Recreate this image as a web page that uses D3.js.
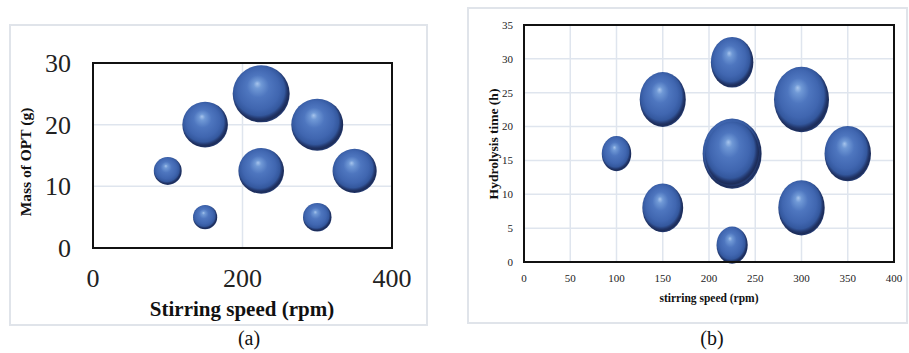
<!DOCTYPE html>
<html>
<head>
<meta charset="utf-8">
<script src="https://cdn.jsdelivr.net/npm/d3@7"></script>
<style>
  body { margin: 0; background: #fff; }
  svg { display: block; }
</style>
</head>
<body>
<div id="chart"></div>
<script>
// Panel (a): stirring speed vs mass of OPT
const speedA = [100, 150, 150, 225, 225, 300, 300, 350];
const massA = [12.5, 5, 20, 25, 12.5, 20, 5, 12.5];
const sizeA = [2.4, 1.8, 6.4, 10, 6.4, 8.3, 2.5, 6.0];
const xTicksA = [0, 200, 400];
const yTicksA = [0, 10, 20, 30];

// Panel (b): stirring speed vs hydrolysis time
const speedB = [100, 150, 150, 225, 225, 225, 225, 300, 300, 350];
const timeB = [16, 24, 8, 29.5, 16, 16, 2.5, 24, 8, 16];
const sizeB = [2.5, 6.1, 4.8, 5.2, 10, 8.4, 2.8, 8.7, 6.2, 6.2];
const xTicksB = [0, 50, 100, 150, 200, 250, 300, 350, 400];
const yTicksB = [0, 5, 10, 15, 20, 25, 30, 35];

const width = 909, height = 353;
const serif = "'Liberation Serif', 'Times New Roman', serif";
const gridColor = "#dfe5ee";

const svg = d3.select("#chart").append("svg")
    .attr("width", width)
    .attr("height", height);

// sphere-looking gradient, light from upper left
const defs = svg.append("defs");
const grad = defs.append("radialGradient")
    .attr("id", "ball")
    .attr("cx", "0.47").attr("cy", "0.46").attr("r", "0.56")
    .attr("fx", "0.43").attr("fy", "0.32");
[["0%", "#a6c4ec"], ["12%", "#7099d6"], ["35%", "#4e76bf"], ["65%", "#4066b0"],
 ["80%", "#34589e"], ["88%", "#22376c"], ["93%", "#1c2c58"], ["100%", "#2b4684"]].forEach(s => {
    grad.append("stop").attr("offset", s[0]).attr("stop-color", s[1]);
});

function panel(cfg) {
    // outer light frame
    svg.append("rect")
        .attr("x", cfg.frame[0]).attr("y", cfg.frame[1])
        .attr("width", cfg.frame[2]).attr("height", cfg.frame[3])
        .attr("fill", "none").attr("stroke", "#e0e4ea").attr("stroke-width", 2);

    const x = d3.scaleLinear().domain(cfg.xDomain).range([cfg.left, cfg.right]);
    const y = d3.scaleLinear().domain(cfg.yDomain).range([cfg.bottom, cfg.top]);
    const r = d3.scaleSqrt().domain([0, 10]).range([0, cfg.rMax]);

    const g = svg.append("g");

    // grid lines
    g.selectAll(".gx").data(cfg.xGrid).join("line")
        .attr("x1", d => x(d)).attr("x2", d => x(d))
        .attr("y1", cfg.top).attr("y2", cfg.bottom)
        .attr("stroke", gridColor).attr("stroke-width", 1.5);
    g.selectAll(".gy").data(cfg.yGrid).join("line")
        .attr("x1", cfg.left).attr("x2", cfg.right)
        .attr("y1", d => y(d)).attr("y2", d => y(d))
        .attr("stroke", gridColor).attr("stroke-width", 1.5);

    // bubbles
    const pts = cfg.xs.map((v, i) => ({ x: v, y: cfg.ys[i], s: cfg.sizes[i] }));
    g.selectAll(".bubble").data(pts).join("ellipse")
        .attr("cx", d => x(d.x))
        .attr("cy", d => y(d.y))
        .attr("rx", d => r(d.s))
        .attr("ry", d => r(d.s) * cfg.stretch)
        .attr("fill", "url(#ball)");

    // plot frame
    g.append("rect")
        .attr("x", cfg.left).attr("y", cfg.top)
        .attr("width", cfg.right - cfg.left).attr("height", cfg.bottom - cfg.top)
        .attr("fill", "none").attr("stroke", "#111").attr("stroke-width", 2);

    // tick labels
    g.selectAll(".tx").data(cfg.xTicks).join("text")
        .attr("x", d => x(d)).attr("y", cfg.xTickY)
        .attr("text-anchor", "middle")
        .attr("font-family", serif).attr("font-size", cfg.tickSize)
        .attr("fill", "#222")
        .text(d => d);
    g.selectAll(".ty").data(cfg.yTicks).join("text")
        .attr("x", cfg.yTickX).attr("y", d => y(d))
        .attr("dy", "0.35em")
        .attr("text-anchor", "end")
        .attr("font-family", serif).attr("font-size", cfg.tickSize)
        .attr("fill", "#222")
        .text(d => d);

    // axis titles
    g.append("text")
        .attr("x", cfg.xTitle[0]).attr("y", cfg.xTitle[1])
        .attr("text-anchor", "middle")
        .attr("font-family", serif).attr("font-weight", "bold")
        .attr("font-size", cfg.xTitle[2]).attr("fill", "#111")
        .text(cfg.xTitle[3]);
    g.append("text")
        .attr("transform", `translate(${cfg.yTitle[0]},${cfg.yTitle[1]}) rotate(-90)`)
        .attr("dy", "0.35em")
        .attr("text-anchor", "middle")
        .attr("font-family", serif).attr("font-weight", "bold")
        .attr("font-size", cfg.yTitle[2]).attr("fill", "#111")
        .text(cfg.yTitle[3]);

    // panel caption
    svg.append("text")
        .attr("x", cfg.caption[0]).attr("y", cfg.caption[1])
        .attr("text-anchor", "middle")
        .attr("font-family", serif).attr("font-size", 20)
        .attr("fill", "#111")
        .text(cfg.caption[2]);
}

panel({
    frame: [10, 25, 417, 300],
    xDomain: [0, 400], yDomain: [0, 30],
    left: 93, right: 392, top: 63, bottom: 248,
    xGrid: [200], yGrid: [10, 20],
    xs: speedA, ys: massA, sizes: sizeA,
    rMax: 28.5, stretch: 1,
    xTicks: xTicksA, yTicks: yTicksA,
    tickSize: 26, xTickY: 287, yTickX: 71,
    xTitle: [242, 316, 21, "Stirring speed (rpm)"],
    yTitle: [26, 162, 15.5, "Mass of OPT (g)"],
    caption: [249, 345, "(a)"]
});

panel({
    frame: [468, 8, 439, 315],
    xDomain: [0, 400], yDomain: [0, 35],
    left: 524, right: 894, top: 25, bottom: 262,
    xGrid: xTicksB.slice(1, -1), yGrid: yTicksB.slice(1, -1),
    xs: speedB, ys: timeB, sizes: sizeB,
    rMax: 29.5, stretch: 1.19,
    xTicks: xTicksB, yTicks: yTicksB,
    tickSize: 11, xTickY: 282, yTickX: 513,
    xTitle: [709, 302, 11.5, "stirring speed (rpm)"],
    yTitle: [493, 144, 13.5, "Hydrolysis time (h)"],
    caption: [712, 345, "(b)"]
});
</script>
</body>
</html>
